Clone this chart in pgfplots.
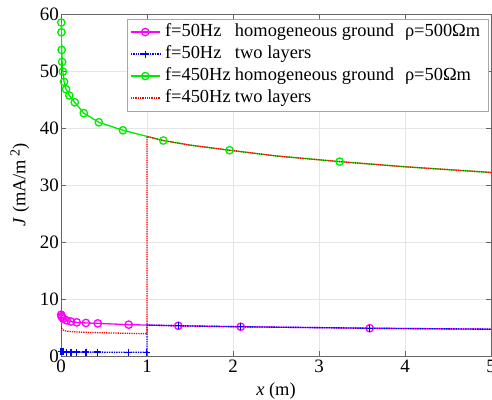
\documentclass[border=0pt]{standalone}
\usepackage{fontspec}
\setmainfont{Liberation Serif}
\usepackage{pgfplots}
\pgfplotsset{compat=1.18}
\definecolor{cmag}{RGB}{255,0,255}
\definecolor{cblue}{RGB}{0,0,255}
\definecolor{cgreen}{RGB}{0,235,0}
\definecolor{cred}{RGB}{255,0,0}

\begin{document}
\begin{tikzpicture}[font=\fontsize{18.5}{21}\selectfont]
\begin{axis}[
  scale only axis,
  width=430bp, height=342bp,
  xmin=0, xmax=5, ymin=0, ymax=60,
  xtick={0,1,2,3,4,5}, ytick={0,10,20,30,40,50,60},
  tick align=inside,
  major tick length=5bp,
  grid=major,
  grid style={gray!20, line width=0.5bp},
  axis line style={black!60, line width=0.6bp},
  every tick/.style={black!60, line width=0.6bp},
  /pgf/number format/assume math mode=true,
  every tick label/.append style={inner sep=2bp, font=\fontsize{19}{21}\selectfont},
  xticklabel style={yshift=-2bp},
  xlabel={\textit{x} (m)},
  ylabel={\textit{J} (mA/m\,\raisebox{0.7ex}{\fontsize{14}{15}\selectfont 2})},
  xlabel style={yshift=-4bp},
  ylabel style={yshift=5bp},
  legend style={at={(0.993,0.985)}, anchor=north east, draw=gray!70,
    fill=white, inner xsep=3bp, inner ysep=2.5bp, row sep=1.5bp,
    nodes={inner xsep=4.5bp, inner ysep=1.5bp, text height=13bp, text depth=4.5bp}},
  legend cell align=left,
  legend image code/.code={
    \draw[#1] (0bp,0bp) -- (29bp,0bp);
    \path[#1] plot coordinates {(14.5bp,0bp)};
  },
]
% f=50Hz homogeneous
\addplot[cmag, line width=1.3bp, mark=o, mark size=3.7bp,
  mark indices={1,2,3,4,5,6,7,8,9,10,11,12,13}] coordinates {
  (0.002,7.25) (0.006,7.0) (0.012,6.8) (0.027,6.55) (0.066,6.25) (0.116,6.05)
  (0.183,5.9) (0.29,5.8) (0.427,5.72) (0.787,5.5) (1.364,5.3) (2.09,5.13)
  (3.59,4.87) (5,4.7)};
\addlegendentry{\makebox[70bp][l]{f=50Hz}\makebox[170bp][l]{homogeneous ground}ρ=500Ωm}
% f=50Hz two layers
\addplot[cblue, densely dotted, line width=1.4bp, mark=+, mark size=3.5bp,
  mark options={solid},
  mark indices={1,2,3,4,5,6,7,8,9,10,13,14,15}] coordinates {
  (0.002,0.8) (0.012,0.75) (0.027,0.72) (0.066,0.7) (0.116,0.7) (0.183,0.68)
  (0.29,0.68) (0.427,0.67) (0.787,0.65) (0.995,0.65) (1,0.65) (1,5.43)
  (1.364,5.3) (2.09,5.13) (3.59,4.87) (5,4.7)};
\addlegendentry{\makebox[70bp][l]{f=50Hz}two layers}
% f=450Hz homogeneous
\addplot[cgreen, line width=1.3bp, mark=o, mark size=3.7bp,
  mark indices={1,2,3,4,5,6,7,8,9,10,11,12,13,15,17}] coordinates {
  (0.0029,58.5) (0.0048,56.8) (0.008,53.7) (0.013,51.6) (0.022,49.9)
  (0.036,48.1) (0.059,46.8) (0.097,45.7) (0.16,44.5) (0.265,42.6)
  (0.44,41.0) (0.72,39.6) (1.19,37.8) (1.5,37.0) (1.96,36.1) (2.5,35.1)
  (3.24,34.1) (4.0,33.2) (5,32.2)};
\addlegendentry{\makebox[70bp][l]{f=450Hz}\makebox[170bp][l]{homogeneous ground}ρ=50Ωm}
% f=450Hz two layers
\addplot[cred, densely dotted, line width=1.3bp] coordinates {
  (0.001,5.3) (0.005,4.9) (0.02,4.6) (0.05,4.4) (0.1,4.3) (0.2,4.2)
  (0.4,4.1) (0.7,4.0) (1,3.9) (1,38.5) (1.19,37.8) (1.5,37.0) (1.96,36.1)
  (2.5,35.1) (3.24,34.1) (4.0,33.2) (5,32.2)};
\addlegendentry{\makebox[70bp][l]{f=450Hz}two layers}
\end{axis}
\pgfresetboundingbox
\path[use as bounding box] (-61bp,-44bp) rectangle (431bp,356bp);
\end{tikzpicture}
\end{document}
